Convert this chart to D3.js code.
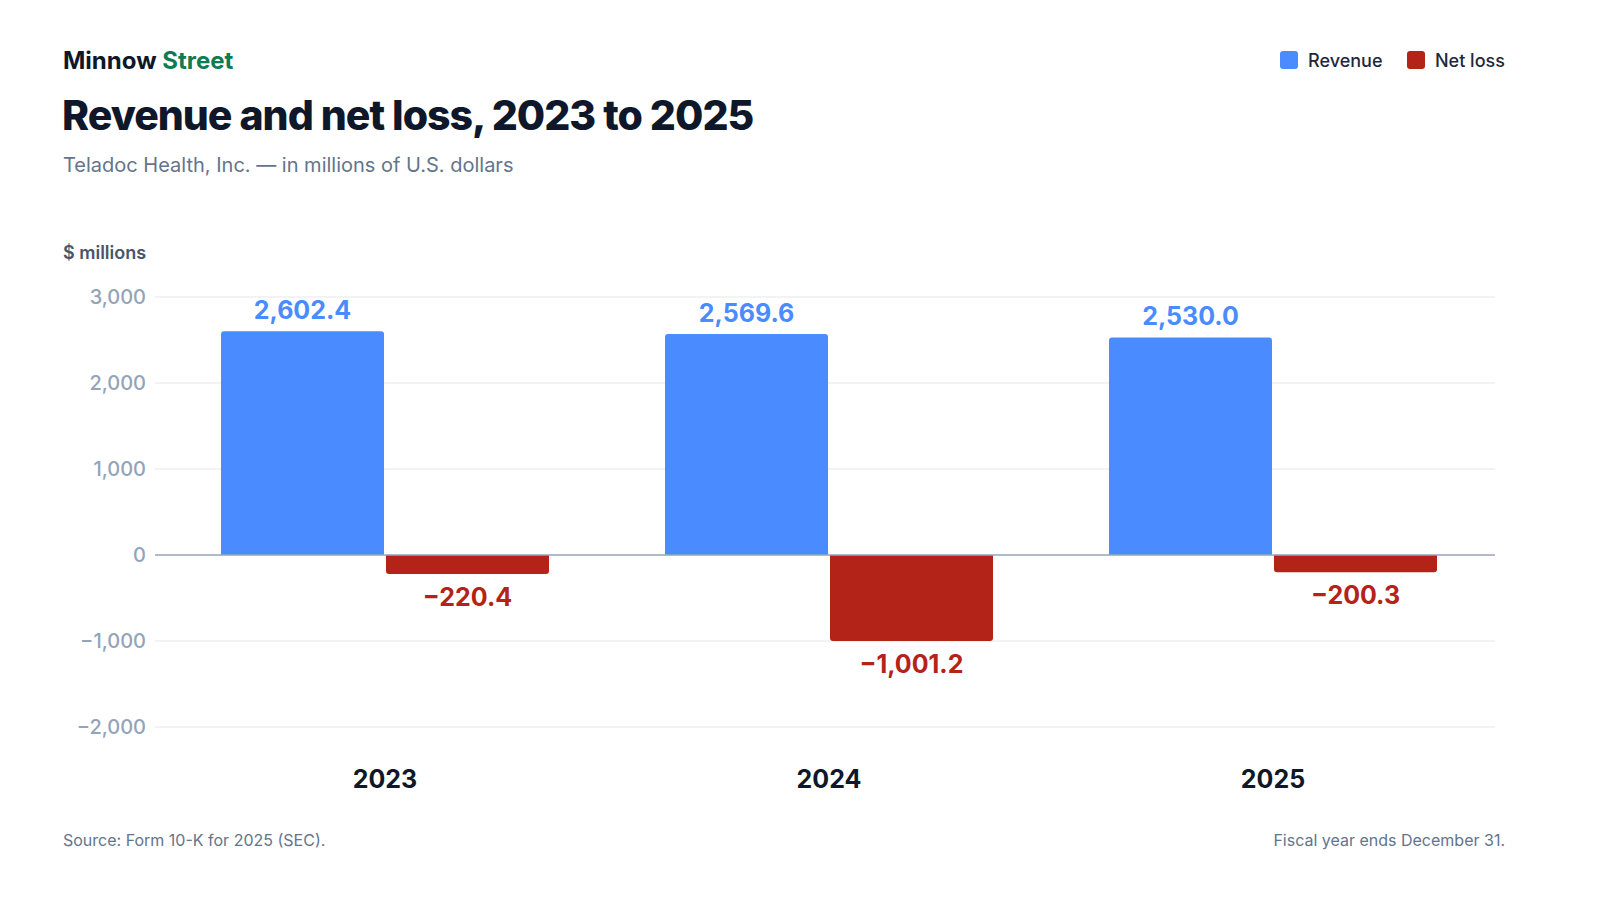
<!DOCTYPE html>
<html><head><meta charset="utf-8">
<script src="https://cdn.jsdelivr.net/npm/d3@7"></script>
<style>body{margin:0;background:#fff}text{font-family:Inter,"Noto Sans",sans-serif}</style>
</head><body><svg id="chart" width="1600" height="900"></svg>
<script>
const years = ["2023","2024","2025"];
const seriesNames = ["Revenue","Net loss"];
const revenue = [2602.4, 2569.6, 2530.0];
const netLoss = [-220.4, -1001.2, -200.3];
const yTicks = [-2000,-1000,0,1000,2000,3000];
const colors = {"Revenue":"#4a8cff","Net loss":"#b42318"};

const svg = d3.select("#chart");
const fmt = v => (v<0?"\u2212":"") + d3.format(",.1f")(Math.abs(v));
const tfmt = v => (v<0?"\u2212":"") + d3.format(",")(Math.abs(v));

let y = d3.scaleLinear().domain([-2000,3000]).range([727,297]);
let x0 = d3.scaleBand().domain(years).range([163,1495]).padding(0);
let x1 = d3.scaleBand().domain(seriesNames).range([58,386]).paddingInner(0.012);

// header
let brand = svg.append("text").attr("x",63).attr("y",69).attr("font-size",24).attr("font-weight",700).attr("fill","#0f172a");
brand.append("tspan").text("Minnow ");
brand.append("tspan").attr("fill","#0f7b54").text("Street");
svg.append("text").attr("x",62).attr("y",130).attr("font-size",41).attr("font-weight",800).attr("letter-spacing",-1).attr("fill","#0f172a").text("Revenue and net loss, 2023 to 2025");
svg.append("text").attr("x",63).attr("y",172).attr("font-size",20).attr("fill","#64748b").text("Teladoc Health, Inc. \u2014 in millions of U.S. dollars");
svg.append("text").attr("x",63).attr("y",259).attr("font-size",18).attr("font-weight",600).attr("fill","#475569").text("$ millions");

// legend
let leg = svg.append("g");
[["Revenue",1280],["Net loss",1407]].forEach(([n,lx])=>{
  leg.append("rect").attr("x",lx).attr("y",51).attr("width",18).attr("height",18).attr("rx",3).attr("fill",colors[n]);
  leg.append("text").attr("x",lx+28).attr("y",67).attr("font-size",18).attr("font-weight",500).attr("fill","#1e293b").text(n);
});

// grid + ticks
svg.append("g").selectAll("line").data(yTicks.filter(d=>d!==0)).enter().append("line")
  .attr("x1",155).attr("x2",1495).attr("y1",d=>y(d)).attr("y2",d=>y(d)).attr("stroke","#e5e7eb");
svg.append("g").selectAll("text").data(yTicks).enter().append("text")
  .attr("x",146).attr("y",d=>y(d)).attr("dy","0.35em").attr("text-anchor","end")
  .attr("font-size",20).attr("font-weight",500).attr("fill","#94a3b8").text(tfmt);

// bars
const rows = years.map((yr,i)=>({year:yr, vals:[{s:"Revenue",v:revenue[i]},{s:"Net loss",v:netLoss[i]}]}));
let g = svg.append("g").selectAll("g").data(rows).enter().append("g").attr("transform",d=>`translate(${x0(d.year)},0)`);
g.selectAll("path").data(d=>d.vals).enter().append("path")
  .attr("fill",d=>colors[d.s])
  .attr("d",d=>{
    const xa=x1(d.s), w=x1.bandwidth(), r=3, y0=y(0), ye=y(d.v);
    if(d.v>=0) return `M${xa},${y0}V${ye+r}Q${xa},${ye} ${xa+r},${ye}H${xa+w-r}Q${xa+w},${ye} ${xa+w},${ye+r}V${y0}Z`;
    return `M${xa},${y0}V${ye-r}Q${xa},${ye} ${xa+r},${ye}H${xa+w-r}Q${xa+w},${ye} ${xa+w},${ye-r}V${y0}Z`;
  });
g.selectAll("text.val").data(d=>d.vals).enter().append("text").attr("class","val")
  .attr("x",d=>x1(d.s)+x1.bandwidth()/2).attr("y",d=>d.v>=0?y(d.v)-12:y(d.v)+32)
  .attr("text-anchor","middle").attr("font-size",25).attr("font-weight",700)
  .attr("fill",d=>colors[d.s]).text(d=>fmt(d.v));
g.append("text").attr("x",x0.bandwidth()/2).attr("y",788).attr("text-anchor","middle")
  .attr("font-size",25).attr("font-weight",700).attr("fill","#0f172a").text(d=>d.year);

// zero line
svg.append("line").attr("x1",155).attr("x2",1495).attr("y1",y(0)).attr("y2",y(0)).attr("stroke","#94a3b8").attr("stroke-width",1.5);

// footer
svg.append("text").attr("x",63).attr("y",846).attr("font-size",16).attr("fill","#64748b").text("Source: Form 10-K for 2025 (SEC).");
svg.append("text").attr("x",1505).attr("y",846).attr("text-anchor","end").attr("font-size",16).attr("fill","#64748b").text("Fiscal year ends December 31.");
</script></body></html>
